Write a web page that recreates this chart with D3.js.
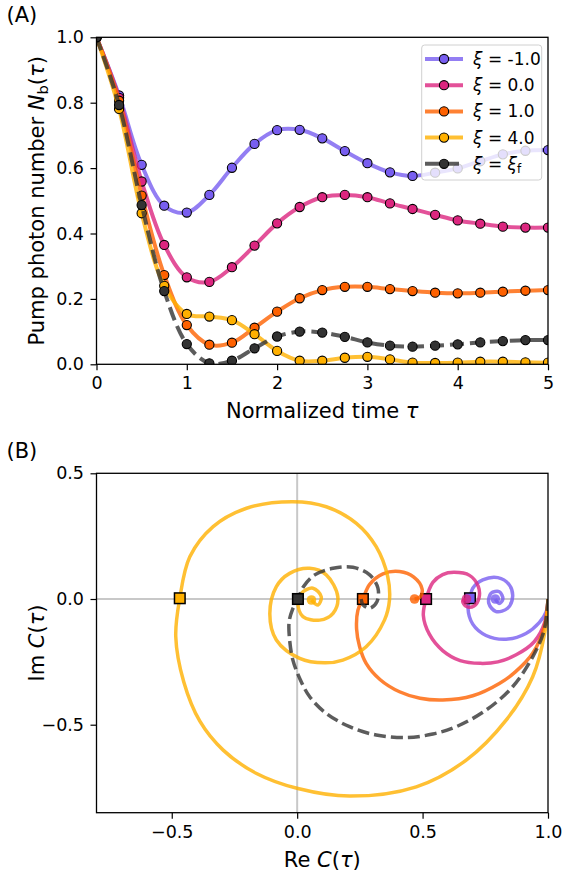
<!DOCTYPE html>
<html><head><meta charset="utf-8">
<script src="https://cdn.jsdelivr.net/npm/d3@7"></script>
<style>
body{margin:0;background:#fff}
svg{display:block}
text{font-family:"DejaVu Sans",sans-serif;fill:#000}
</style>
</head><body>
<svg id="fig" width="566" height="871"></svg>
<script>
// ---------- Data ----------
const tau = [0,0.25,0.5,0.75,1,1.25,1.5,1.75,2,2.25,2.5,2.75,3,3.25,3.5,3.75,4,4.25,4.5,4.75,5];
const xiLabels = ["-1.0","0.0","1.0","4.0","f"];
const colors = ["#785EF0","#DC267F","#FE6100","#FFB000","#333333"];

const nbXiMinus1 = [1.0,0.822,0.610,0.485,0.464,0.518,0.601,0.674,0.716,0.717,0.691,0.652,0.615,0.587,0.576,0.586,0.599,0.621,0.642,0.653,0.655];
const nbXi0      = [1.0,0.815,0.559,0.365,0.266,0.252,0.297,0.363,0.431,0.481,0.511,0.518,0.511,0.492,0.475,0.457,0.440,0.430,0.421,0.418,0.418];
const nbXi1      = [1.0,0.806,0.516,0.273,0.120,0.060,0.066,0.112,0.161,0.202,0.227,0.237,0.237,0.230,0.224,0.219,0.217,0.219,0.222,0.225,0.227];
const nbXi4      = [1.0,0.781,0.462,0.240,0.154,0.146,0.135,0.092,0.041,0.011,0.011,0.020,0.023,0.015,0.005,0.004,0.005,0.008,0.008,0.006,0.005];
const nbXiF      = [1.0,0.793,0.487,0.224,0.062,0.003,0.011,0.049,0.085,0.100,0.097,0.084,0.067,0.057,0.054,0.057,0.061,0.067,0.071,0.074,0.074];

const cXiMinus1 = [[1.0,0.0],[0.993,-0.05],[0.965,-0.094],[0.912,-0.137],[0.833,-0.16],[0.753,-0.145],[0.70,-0.1],[0.681,-0.035],[0.689,0.003],[0.70,0.043],[0.74,0.076],[0.80,0.085],[0.846,0.056],[0.859,0.009],[0.839,-0.037],[0.793,-0.05],[0.764,-0.017],[0.773,0.023],[0.806,0.029],[0.82,0.0],[0.805,-0.018],[0.79,0.0]];
const cXi0 = [[1.0,0.0],[0.988,-0.09],[0.945,-0.17],[0.873,-0.222],[0.80,-0.25],[0.73,-0.256],[0.65,-0.245],[0.58,-0.205],[0.527,-0.14],[0.503,-0.065],[0.514,0.0],[0.541,0.066],[0.58,0.097],[0.625,0.106],[0.687,0.094],[0.722,0.05],[0.725,0.005],[0.705,-0.028],[0.675,-0.03],[0.66,-0.008],[0.675,0.0]];
const cXi1 = [[1.0,0.0],[0.985,-0.11],[0.939,-0.216],[0.87,-0.29],[0.806,-0.336],[0.70,-0.385],[0.58,-0.402],[0.49,-0.395],[0.408,-0.369],[0.33,-0.32],[0.275,-0.256],[0.249,-0.19],[0.237,-0.12],[0.242,-0.045],[0.262,0.0],[0.289,0.058],[0.342,0.1],[0.408,0.109],[0.465,0.087],[0.498,0.04],[0.49,0.008],[0.468,0.0]];
const cXi4 = [[1.0,0.0],[0.987,-0.135],[0.939,-0.309],[0.833,-0.482],[0.674,-0.641],[0.475,-0.747],[0.209,-0.784],[0.003,-0.754],[-0.162,-0.694],[-0.295,-0.601],[-0.388,-0.486],[-0.452,-0.33],[-0.484,-0.15],[-0.468,0.003],[-0.428,0.168],[-0.335,0.288],[-0.202,0.361],[-0.017,0.387],[0.116,0.367],[0.236,0.301],[0.315,0.208],[0.361,0.089],[0.368,-0.004],[0.348,-0.084],[0.275,-0.19],[0.182,-0.243],[0.109,-0.254],[0.01,-0.236],[-0.083,-0.163],[-0.109,-0.06],[-0.083,0.049],[-0.03,0.102],[0.05,0.122],[0.116,0.096],[0.162,0.009],[0.143,-0.057],[0.09,-0.084],[0.023,-0.07],[0.003,-0.017],[0.017,0.023],[0.063,0.043],[0.096,0.009],[0.083,-0.024],[0.057,-0.004]];
const cXiF = [[1.0,0.0],[0.985,-0.123],[0.939,-0.23],[0.859,-0.349],[0.753,-0.442],[0.634,-0.508],[0.541,-0.537],[0.435,-0.551],[0.315,-0.541],[0.209,-0.508],[0.116,-0.455],[0.05,-0.389],[0.012,-0.32],[-0.017,-0.243],[-0.03,-0.163],[-0.032,-0.09],[-0.018,-0.04],[0.003,0.0],[0.025,0.049],[0.07,0.096],[0.143,0.122],[0.222,0.126],[0.289,0.096],[0.322,0.043],[0.318,-0.011],[0.289,-0.037],[0.262,-0.022],[0.255,0.0]];

const squareRe = [0.689,0.514,0.262,-0.468,0.003];
const squareIm = [0.003,0.0,0.0,0.003,0.0];

const xTicksA = [0,1,2,3,4,5];
const yTicksA = [0,0.2,0.4,0.6,0.8,1.0];
const xTicksB = [-0.5,0,0.5,1.0];
const yTicksB = [-0.5,0,0.5];

// ---------- Setup ----------
const nbSeries = [nbXiMinus1,nbXi0,nbXi1,nbXi4,nbXiF];
const cSeries = [cXiMinus1,cXi0,cXi1,cXi4,cXiF];
const svg = d3.select("#fig");
const TICK = 17.5, LABEL = 21;

const A = {l:96.5, r:548, t:37.3, b:364.3};
const B = {l:96.5, r:548, t:473.3, b:812.7};

const xA = d3.scaleLinear([0,5],[A.l,A.r]);
const yA = d3.scaleLinear([0,1],[A.b,A.t]);
const xB = d3.scaleLinear([-0.8,1.0],[B.l,B.r]);
const yB = d3.scaleLinear([-0.85,0.5],[B.b,B.t]);

const defs = svg.append("defs");
defs.append("clipPath").attr("id","clipA").append("rect")
  .attr("x",A.l).attr("y",A.t).attr("width",A.r-A.l).attr("height",A.b-A.t);
defs.append("clipPath").attr("id","clipB").append("rect")
  .attr("x",B.l).attr("y",B.t).attr("width",B.r-B.l).attr("height",B.b-B.t);

function styleAxis(g){
  g.select(".domain").remove();
  g.selectAll(".tick line").attr("stroke","#000").attr("stroke-width",1.2);
  g.selectAll(".tick text").attr("font-size",TICK).attr("font-family","DejaVu Sans").attr("fill","#000");
}
function frame(P){
  svg.append("rect").attr("x",P.l).attr("y",P.t).attr("width",P.r-P.l).attr("height",P.b-P.t)
    .attr("fill","none").attr("stroke","#000").attr("stroke-width",1.3);
}

// ---------- Panel A ----------
const gA = svg.append("g").attr("clip-path","url(#clipA)");
const lineA = d3.line().x((d,i)=>xA(tau[i])).y(d=>yA(d)).curve(d3.curveCatmullRom.alpha(0.5));
nbSeries.forEach((s,k)=>{
  gA.append("path").datum(s).attr("d",lineA).attr("fill","none")
    .attr("stroke",colors[k]).attr("stroke-opacity",0.8).attr("stroke-width",4)
    .attr("stroke-dasharray", k===4 ? "14,6" : null);
  gA.selectAll(null).data(s).enter().append("circle")
    .attr("cx",(d,i)=>xA(tau[i])).attr("cy",d=>yA(d)).attr("r",4.6)
    .attr("fill",colors[k]).attr("stroke","#000").attr("stroke-width",1.1);
});

svg.append("g").attr("transform",`translate(0,${A.b})`)
  .call(d3.axisBottom(xA).tickValues(xTicksA).tickFormat(d3.format("d")).tickSize(6).tickPadding(6.5))
  .call(styleAxis);
svg.append("g").attr("transform",`translate(${A.l},0)`)
  .call(d3.axisLeft(yA).tickValues(yTicksA).tickFormat(d3.format(".1f")).tickSize(6).tickPadding(6.5))
  .call(styleAxis);
frame(A);

// Legend
const leg = svg.append("g");
leg.append("rect").attr("x",421.7).attr("y",45).attr("width",120).attr("height",135).attr("rx",3)
  .attr("fill","#fff").attr("fill-opacity",0.8).attr("stroke","#d0d0d0").attr("stroke-width",1);
const rowY = [59,85.2,111.4,137.6,163.8];
xiLabels.forEach((lab,k)=>{
  const y = rowY[k];
  leg.append("line").attr("x1",425).attr("x2",463).attr("y1",y).attr("y2",y)
    .attr("stroke",colors[k]).attr("stroke-opacity",0.8).attr("stroke-width",4)
    .attr("stroke-dasharray", k===4 ? "14,6" : null);
  leg.append("circle").attr("cx",444).attr("cy",y).attr("r",4.6)
    .attr("fill",colors[k]).attr("stroke","#000").attr("stroke-width",1.1);
  const t = leg.append("text").attr("x",473).attr("y",y+6).attr("font-size",17);
  t.append("tspan").attr("font-style","italic").text("ξ");
  if(k<4){
    t.append("tspan").text(" = "+lab);
  } else {
    t.append("tspan").text(" = ");
    t.append("tspan").attr("font-style","italic").text("ξ");
    t.append("tspan").attr("font-size","0.7em").attr("dy","0.25em").text("f");
  }
});

// Axis labels A
const xlA = svg.append("text").attr("x",(A.l+A.r)/2).attr("y",418.3).attr("text-anchor","middle").attr("font-size",LABEL);
xlA.append("tspan").text("Normalized time ");
xlA.append("tspan").attr("font-style","italic").text("τ");

const ylA = svg.append("text").attr("transform",`translate(43.5,${(A.t+A.b)/2}) rotate(-90)`)
  .attr("text-anchor","middle").attr("font-size",LABEL);
ylA.append("tspan").text("Pump photon number ");
ylA.append("tspan").attr("font-style","italic").text("N");
ylA.append("tspan").attr("font-size","0.7em").attr("dy","0.3em").text("b");
ylA.append("tspan").attr("dy","-0.21em").text("(");
ylA.append("tspan").attr("font-style","italic").text("τ");
ylA.append("tspan").text(")");

svg.append("text").attr("x",6.5).attr("y",22).attr("font-size",LABEL).text("(A)");

// ---------- Panel B ----------
const gB = svg.append("g").attr("clip-path","url(#clipB)");
gB.append("line").attr("x1",B.l).attr("x2",B.r).attr("y1",yB(0)).attr("y2",yB(0))
  .attr("stroke","#c8c8c8").attr("stroke-width",2);
gB.append("line").attr("x1",xB(0)).attr("x2",xB(0)).attr("y1",B.t).attr("y2",B.b)
  .attr("stroke","#c8c8c8").attr("stroke-width",2);

const lineB = d3.line().x(d=>xB(d[0])).y(d=>yB(d[1])).curve(d3.curveCatmullRom.alpha(0.5));
cSeries.forEach((s,k)=>{
  gB.append("path").datum(s).attr("d",lineB).attr("fill","none")
    .attr("stroke",colors[k]).attr("stroke-opacity",0.8).attr("stroke-width",3.5)
    .attr("stroke-dasharray", k===4 ? "12,5" : null);
  if(k<4){
    const e = s[s.length-1];
    gB.append("circle").attr("cx",xB(e[0])).attr("cy",yB(e[1])).attr("r",4.8)
      .attr("fill",colors[k]).attr("fill-opacity",0.8);
  }
  gB.append("rect").attr("x",xB(squareRe[k])-5.3).attr("y",yB(squareIm[k])-5.3)
    .attr("width",10.6).attr("height",10.6)
    .attr("fill",colors[k]).attr("stroke","#000").attr("stroke-width",1.5);
});

svg.append("g").attr("transform",`translate(0,${B.b})`)
  .call(d3.axisBottom(xB).tickValues(xTicksB).tickFormat(d3.format(".1f")).tickSize(6).tickPadding(6.5))
  .call(styleAxis);
svg.append("g").attr("transform",`translate(${B.l},0)`)
  .call(d3.axisLeft(yB).tickValues(yTicksB).tickFormat(d3.format(".1f")).tickSize(6).tickPadding(6.5))
  .call(styleAxis);
frame(B);

const xlB = svg.append("text").attr("x",(B.l+B.r)/2).attr("y",866.5).attr("text-anchor","middle").attr("font-size",LABEL);
xlB.append("tspan").text("Re ");
xlB.append("tspan").attr("font-style","italic").text("C");
xlB.append("tspan").text("(");
xlB.append("tspan").attr("font-style","italic").text("τ");
xlB.append("tspan").text(")");

const ylB = svg.append("text").attr("transform",`translate(43.5,${(B.t+B.b)/2}) rotate(-90)`)
  .attr("text-anchor","middle").attr("font-size",LABEL);
ylB.append("tspan").text("Im ");
ylB.append("tspan").attr("font-style","italic").text("C");
ylB.append("tspan").text("(");
ylB.append("tspan").attr("font-style","italic").text("τ");
ylB.append("tspan").text(")");

svg.append("text").attr("x",6.5).attr("y",458).attr("font-size",LABEL).text("(B)");
</script>
</body></html>
